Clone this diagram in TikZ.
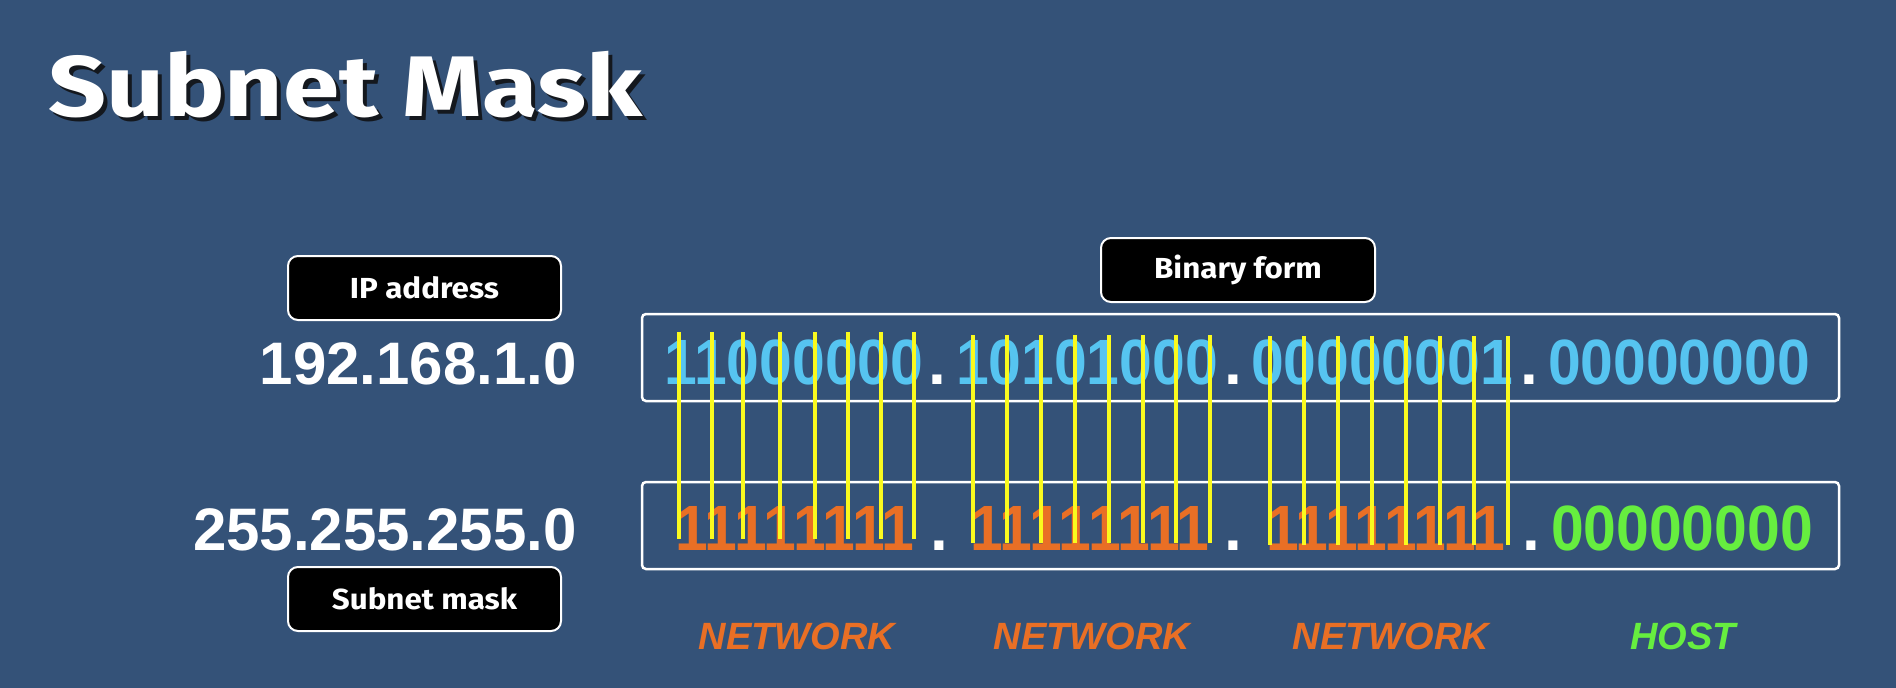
\documentclass[tikz,border=0pt]{standalone}
\usepackage{fontspec}
\setmainfont{Liberation Sans}
\newfontfamily\titlefont{Fira Sans}[FakeStretch=1.18]
\newfontfamily\lblfont{Fira Sans}[FakeStretch=1.08]
\newfontfamily\digitfont{Liberation Sans}[FakeStretch=0.92]
\definecolor{bg}{RGB}{52,82,120}
\definecolor{lblue}{RGB}{86,196,240}
\definecolor{orng}{RGB}{233,111,37}
\definecolor{grn}{RGB}{102,238,63}
\definecolor{yel}{RGB}{250,250,30}
\definecolor{shadow}{RGB}{20,24,30}
\tikzset{
  lbl/.style={draw=white, line width=2pt, fill=black, rounded corners=10pt,
    minimum width=273pt, minimum height=64pt, inner sep=0pt, text=white,
    font=\lblfont\bfseries\fontsize{29}{29}\selectfont},
  binbox/.style={draw=white, line width=2.5pt, rounded corners=4pt,
    minimum width=1197pt, minimum height=87pt, inner sep=0pt},
  num/.style={anchor=base east, inner sep=0pt, text=white,
    font=\bfseries\fontsize{60}{60}\selectfont},
  bin/.style={anchor=base, inner sep=0pt,
    font=\digitfont\bfseries\fontsize{64}{64}\selectfont},
  bdot/.style={anchor=base, inner sep=0pt, text=white,
    font=\bfseries\fontsize{64}{64}\selectfont},
  yl/.style={draw=yel, line width=3.2pt},
  part/.style={anchor=base, inner sep=0pt,
    font=\bfseries\itshape\fontsize{38}{38}\selectfont},
}
\begin{document}
\begin{tikzpicture}[x=1pt,y=-1pt]
\fill[bg] (0,0) rectangle (1896,688);
\useasboundingbox (0,0) rectangle (1896,688);
% title with shadow
\node[anchor=base west, inner sep=0pt, text=white] (title) at (48,116)
  {\titlefont\bfseries\fontsize{86}{86}\selectfont
   \rlap{\hspace{4pt}\raisebox{-4pt}{\textcolor{shadow}{Subnet Mask}}}Subnet Mask};
% labels
\node[lbl] (iplbl) at (424.5,288) {IP address};
\node[lbl] (masklbl) at (424.5,599) {Subnet mask};
\node[lbl, minimum width=274pt] (binlbl) at (1238,270) {Binary form};
% decimal numbers
\node[num] (ip) at (577,384) {192.168.1.0};
\node[num] (mask) at (577,550) {255.255.255.0};
% binary boxes
\node[binbox] (topbox) at (1240.5,357.5) {};
\node[binbox] (botbox) at (1240.5,525.5) {};
% top binary
\node[bin, text=lblue] (t1) at (794,384) {11000000};
\node[bdot] (td1) at (937,384) {.};
\node[bin, text=lblue] (t2) at (1087,384) {10101000};
\node[bdot] (td2) at (1233,384) {.};
\node[bin, text=lblue] (t3) at (1382,384) {00000001};
\node[bdot] (td3) at (1529,384) {.};
\node[bin, text=lblue] (t4) at (1679,384) {00000000};
% bottom binary
\node[bin, text=orng] (b1) at (795,550) {11111111};
\node[bdot] (bd1) at (939,550) {.};
\node[bin, text=orng] (b2) at (1090,550) {11111111};
\node[bdot] (bd2) at (1233,550) {.};
\node[bin, text=orng] (b3) at (1386,550) {11111111};
\node[bdot] (bd3) at (1531,550) {.};
\node[bin, text=grn] (b4) at (1682,550) {00000000};
% yellow bit lines
\foreach \x in {679,712,743,780,815,848,881,914}
  \draw[yl] (\x,332) -- (\x,539);
\foreach \x in {973,1007,1041,1075,1109,1143,1176,1210}
  \draw[yl] (\x,335) -- (\x,543);
\foreach \x in {1270,1304,1338,1372,1406,1440,1474,1508}
  \draw[yl] (\x,336) -- (\x,545);
% part labels
\node[part, text=orng] (n1) at (797,649) {NETWORK};
\node[part, text=orng] (n2) at (1092,649) {NETWORK};
\node[part, text=orng] (n3) at (1391,649) {NETWORK};
\node[part, text=grn] (h4) at (1683,649) {HOST};
\end{tikzpicture}
\end{document}
